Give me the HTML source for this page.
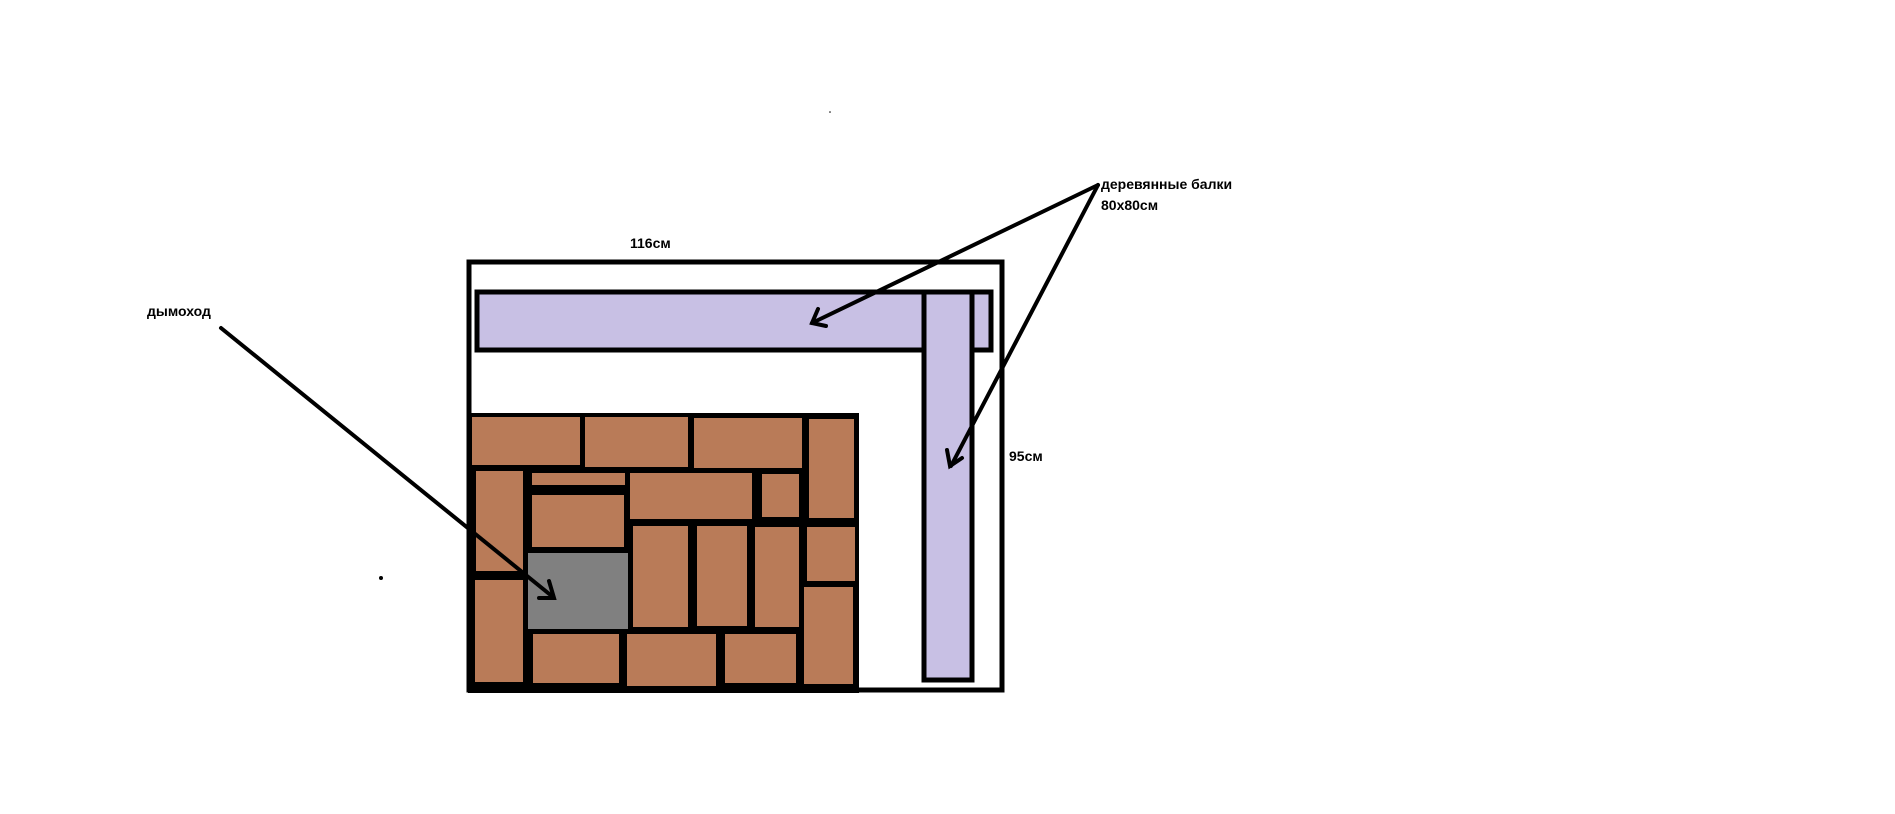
<!DOCTYPE html>
<html><head><meta charset="utf-8"><style>
html,body{margin:0;padding:0;background:#fff;width:1895px;height:814px;overflow:hidden}
svg{display:block}
text{font-family:"Liberation Sans","DejaVu Sans",sans-serif;font-weight:bold;font-size:14px;fill:#000}
</style></head><body>
<svg width="1895" height="814" viewBox="0 0 1895 814">
<!-- outer rect -->
<rect x="469" y="262" width="533" height="428" fill="none" stroke="#000" stroke-width="5"/>
<!-- beams -->
<rect x="477" y="292" width="514" height="58" fill="#c8c0e4" stroke="#000" stroke-width="5"/>
<rect x="924" y="292" width="48" height="388" fill="#c8c0e4" stroke="#000" stroke-width="5"/>
<line x1="924" y1="292" x2="924" y2="350" stroke="#000" stroke-width="5"/>
<!-- bricks -->
<rect x="468" y="413" width="391" height="280" fill="#000"/>
<g fill="#b97b58">
<rect x="472" y="417" width="108" height="48"/>
<rect x="585" y="417" width="103" height="50"/>
<rect x="694" y="418" width="108" height="50"/>
<rect x="809" y="419" width="45" height="99"/>
<rect x="476" y="471" width="47" height="100"/>
<rect x="532" y="473" width="93" height="12"/>
<rect x="532" y="495" width="92" height="52"/>
<rect x="630" y="473" width="122" height="46"/>
<rect x="762" y="474" width="37" height="43"/>
<rect x="633" y="526" width="55" height="101"/>
<rect x="697" y="526" width="50" height="100"/>
<rect x="755" y="527" width="44" height="100"/>
<rect x="807" y="527" width="48" height="54"/>
<rect x="804" y="587" width="49" height="97"/>
<rect x="475" y="580" width="48" height="102"/>
<rect x="533" y="634" width="86" height="49"/>
<rect x="627" y="634" width="89" height="52"/>
<rect x="725" y="634" width="71" height="49"/>
</g>
<rect x="528" y="553" width="100" height="76" fill="#808080"/>
<!-- arrows -->
<g stroke="#000" stroke-width="4" fill="none" stroke-linecap="round">
<line x1="221" y1="328" x2="553" y2="597"/>
<polyline points="549,581 554,598 539,598"/>
<line x1="1098" y1="185" x2="812" y2="323"/>
<polyline points="818,309 812,323 826,326"/>
<line x1="1098" y1="185" x2="951" y2="466"/>
<polyline points="947,450 950,466 962,458"/>
</g>
<circle cx="381" cy="578" r="2" fill="#000"/>
<circle cx="830" cy="112" r="0.8" fill="#000"/>
<text x="630" y="248">116см</text>
<text x="1009" y="461">95см</text>
<text x="147" y="316">дымоход</text>
<text x="1101" y="189">деревянные балки</text>
<text x="1101" y="210">80x80см</text>
</svg>
</body></html>
